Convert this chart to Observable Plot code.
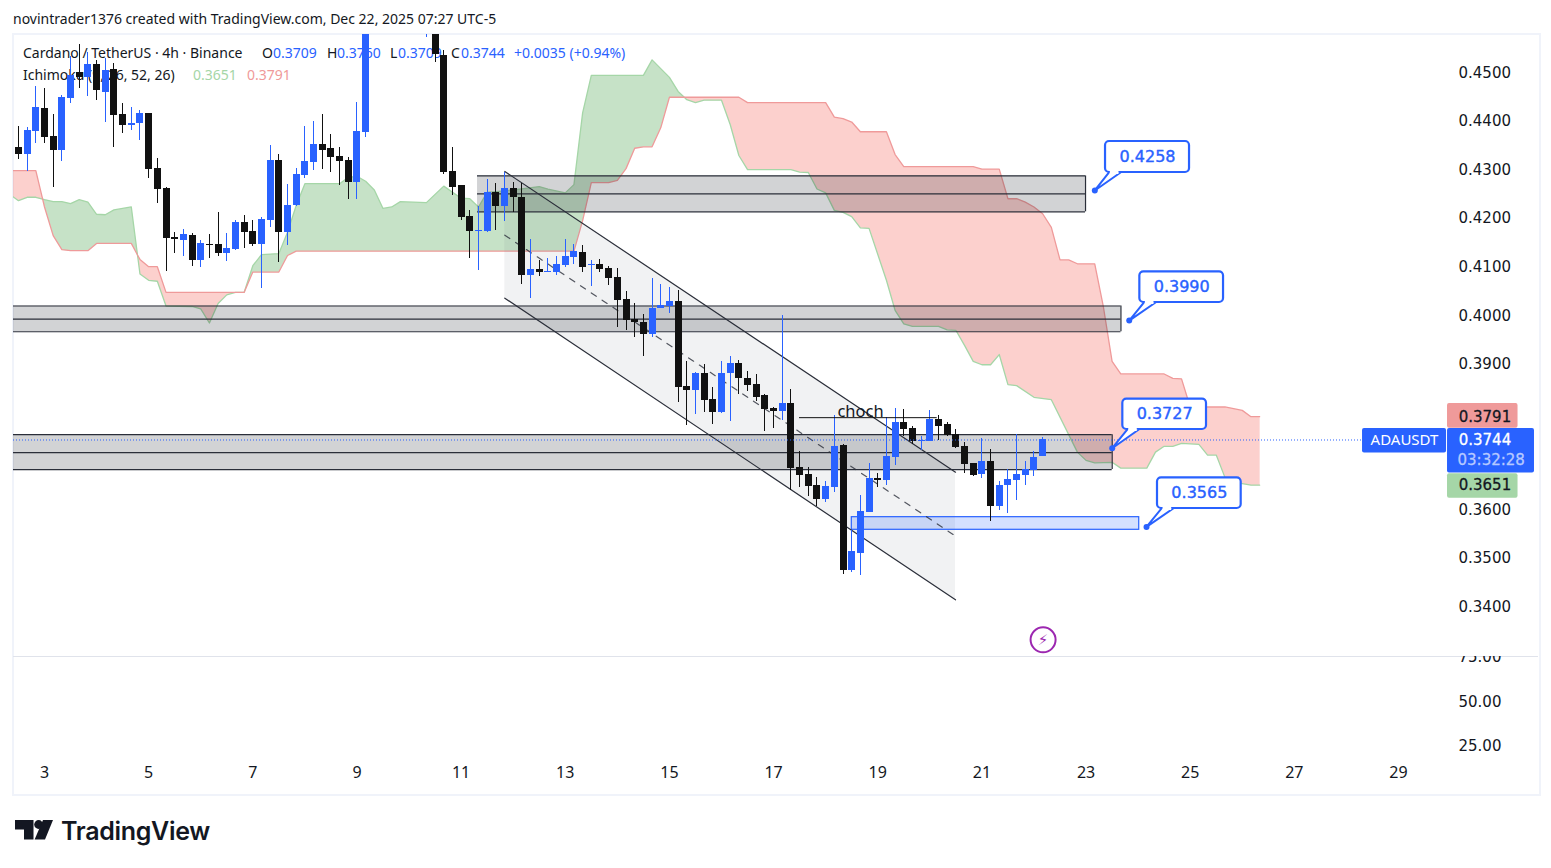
<!DOCTYPE html>
<html>
<head>
<meta charset="utf-8">
<script src="https://cdn.jsdelivr.net/npm/d3@7"></script>
<script src="https://cdn.jsdelivr.net/npm/@observablehq/plot@0.6"></script>
<style>
  html, body { margin: 0; background: #fff; }
  #page { position: relative; width: 1551px; height: 868px; overflow: hidden;
          font-family: "Noto Sans", sans-serif; font-size: 14px; color: #131722; }
  #page span, #page div.txt { position: absolute; white-space: nowrap; line-height: 18px; }
  #pane { position: absolute; left: 12px; top: 33px; width: 1525px; height: 759px; border: 2px solid #f0f3fa; }
  #sep { position: absolute; left: 13px; top: 656px; width: 1525px; border-top: 1px solid #e0e3eb; }
  #page svg { position: absolute; }
  .blue { color: #2962ff; }
</style>
</head>
<body>
<div id="page">
  <span style="left:13px;top:10px">novintrader1376 created with TradingView.com, Dec 22, 2025 07:27 UTC-5</span>
  <div id="pane"></div>
  <span style="left:23px;top:44px">Cardano / TetherUS · 4h · Binance</span>
  <span style="left:262px;top:44px">O</span><span class="blue" style="left:273px;top:44px">0.3709</span>
  <span style="left:327px;top:44px">H</span><span class="blue" style="left:337px;top:44px">0.3760</span>
  <span style="left:390px;top:44px">L</span><span class="blue" style="left:398px;top:44px">0.3709</span>
  <span style="left:451px;top:44px">C</span><span class="blue" style="left:461px;top:44px">0.3744</span>
  <span class="blue" style="left:514px;top:44px">+0.0035 (+0.94%)</span>
  <span style="left:23px;top:66px">Ichimoku (9, 26, 52, 26)</span>
  <span style="left:193px;top:66px;color:#a5d6a7">0.3651</span>
  <span style="left:247px;top:66px;color:#ef9a9a">0.3791</span>
  <div id="sep"></div>
  <svg width="40" height="21" style="left:14px;top:820px" viewBox="14 820 40 21">
    <path fill="#131722" d="M15 820h18.5v19.5H24v-10h-9z"/>
    <circle fill="#131722" cx="38.6" cy="824.5" r="4.4"/>
    <path fill="#131722" d="M43 820h10l-8 19.5H34.6z"/>
  </svg>
  <span style="left:61px;top:817px;font-family:Inter;font-weight:600;font-size:25px;line-height:28px;letter-spacing:-.3px">TradingView</span>
</div>
<script>
// 4h candles, first one sits at day 2.5 of the month. null = above the visible pane
const opens = [
  .4347,.4333,.4380,.4427,.4369,.4341,.4448,.4500,.4491,.4518,
  .4460,.4507,.4414,.4392,.4395,.4416,.4303,.4262,.4161,.4154,
  .4165,.4114,.4147,.4147,.4129,.4136,.4192,.4173,.4147,.4196,
  .4320,.4172,.4227,.4289,.4316,.4353,.4344,.4328,.4320,.4274,
  .4377,null,null,null,null,null,null,.4640,.4700,.4536,
  .4297,.4268,.4204,.4174,.4174,.4254,.4224,.4262,.4244,.4082,
  .4095,.4090,.4090,.4104,.4120,.4130,.4104,.4106,.4097,.4079,
  .4033,.3993,.3986,.3962,.4014,.4020,.4029,.3854,.3845,.3881,
  .3828,.3801,.3880,.3902,.3871,.3858,.3836,.3809,.3803,.3819,
  .3687,.3673,.3650,.3622,.3646,.3733,.3475,.3510,.3595,.3665,
  .3661,.3708,.3780,.3768,.3741,.3741,.3786,.3776,.3755,.3731,
  .3696,.3673,.3700,.3607,.3650,.3661,.3671,.3681,.3709
]
const highs = [
  .4390,.4387,.4472,.4469,.4414,.4453,.4533,.4559,.4543,.4526,
  .4529,.4520,.4437,.4428,.4423,.4416,.4324,.4264,.4171,.4178,
  .4170,.4154,.4167,.4213,.4170,.4196,.4206,.4196,.4203,.4351,
  .4332,.4270,.4303,.4390,.4400,.4414,.4373,.4347,.4326,.4439,
  .4720,null,null,null,null,null,null,.4720,.4720,.4546,
  .4347,.4268,.4217,.4224,.4281,.4273,.4296,.4274,.4273,.4157,
  .4114,.4118,.4122,.4157,.4147,.4145,.4114,.4116,.4101,.4097,
  .4050,.4025,.4003,.4077,.4064,.4058,.4052,.3906,.3883,.3900,
  .3852,.3906,.3916,.3908,.3885,.3879,.3838,.3811,.4001,.3848,
  .3720,.3687,.3667,.3659,.3795,.3735,.3558,.3630,.3696,.3675,
  .3790,.3809,.3807,.3772,.3751,.3805,.3795,.3780,.3766,.3739,
  .3696,.3747,.3725,.3659,.3683,.3755,.3700,.3720,.3750
]
const lows = [
  .4322,.4298,.4355,.4355,.4265,.4318,.4438,.4469,.4452,.4443,
  .4397,.4347,.4376,.4382,.4360,.4282,.4232,.4092,.4129,.4121,
  .4102,.4100,.4117,.4121,.4112,.4135,.4139,.4143,.4057,.4182,
  .4110,.4145,.4225,.4283,.4299,.4301,.4295,.4268,.4239,.4239,
  .4367,null,null,null,null,null,null,.4573,.4522,.4291,
  .4248,.4196,.4117,.4093,.4172,.4176,.4194,.4213,.4064,.4036,
  .4080,.4090,.4082,.4100,.4106,.4090,.4061,.4088,.4063,.3976,
  .3970,.3956,.3915,.3956,.4014,.4005,.3822,.3773,.3797,.3801,
  .3775,.3799,.3783,.3838,.3844,.3824,.3762,.3768,.3784,.3639,
  .3646,.3628,.3607,.3615,.3636,.3467,.3471,.3465,.3595,.3646,
  .3650,.3692,.3751,.3735,.3722,.3741,.3743,.3751,.3727,.3675,
  .3669,.3665,.3576,.3599,.3593,.3619,.3650,.3669,.3709
]
const closes = [
  .4333,.4382,.4429,.4368,.4341,.4449,.4495,.4491,.4518,.4463,
  .4505,.4413,.4392,.4395,.4416,.4302,.4261,.4160,.4156,.4168,
  .4114,.4149,.4145,.4129,.4138,.4192,.4172,.4147,.4198,.4320,
  .4172,.4227,.4291,.4318,.4353,.4340,.4326,.4318,.4274,.4379,
  .4680,null,null,null,null,null,null,.4700,.4538,.4295,
  .4265,.4203,.4174,.4176,.4254,.4224,.4262,.4244,.4082,.4095,
  .4090,.4092,.4106,.4122,.4132,.4099,.4106,.4096,.4077,.4032,
  .3991,.3985,.3962,.4015,.4021,.4029,.3853,.3845,.3881,.3826,
  .3801,.3881,.3902,.3871,.3856,.3832,.3807,.3803,.3819,.3685,
  .3671,.3648,.3622,.3648,.3731,.3475,.3514,.3597,.3665,.3661,
  .3710,.3780,.3766,.3741,.3743,.3786,.3772,.3753,.3729,.3694,
  .3671,.3700,.3607,.3650,.3663,.3673,.3683,.3708,.3744
]

// Ichimoku lines as [bar, price] at the visible corners (crossings are in both lists)
const spanA = [
  [-1,.4250],[0,.4237],[1,.4244],[2,.4244],[2.786,.4240],[3,.4239],[4,.4235],[5,.4235],[6,.4231],[7,.4239],[8,.4234],[9,.4209],[10,.4208],
  [11,.4218],[12,.4221],[13,.4224],[13.714,.4125],[14,.4086],[15,.4073],[16,.4071],[17,.4020],[20,.4019],[21,.4014],[22,.3985],[23,.4025],
  [24,.4043],[25,.4048],[26,.4048],[27,.4103],[28,.4126],[30,.4128],[31,.4172],[32,.4227],[33,.4272],[37,.4272],[38,.4285],[39,.4287],
  [40,.4277],[41,.4259],[42,.4221],[43,.4224],[44,.4235],[47,.4233],[49,.4267],[51,.4242],[52,.4241],[53,.4224],[54,.4254],[57,.4259],
  [60,.4266],[61,.4261],[63,.4253],[64,.4270],[65,.4418],[66,.4495],[72,.4495],[73,.4527],[75,.4491],[76,.4462],[76.71,.4450],[77,.4445],
  [78,.4439],[79,.4444],[81,.4444],[82,.4394],[83,.4330],[84,.4301],[89,.4301],[90,.4296],[91,.4295],[92,.4261],[93,.4253],[94,.4217],
  [95,.4213],[96,.4204],[97,.4181],[98,.4180],[100,.4073],[101,.4011],[102,.3983],[103,.3978],[106,.3978],[107,.3971],[108,.3970],[109,.3939],
  [110,.3906],[111,.3899],[112,.3899],[113,.3920],[114,.3858],[115,.3856],[117,.3832],[119,.3827],[121,.3755],[122,.3719],[123,.3702],
  [124,.3697],[126,.3698],[127,.3686],[130,.3686],[131,.3719],[132,.3731],[133,.3731],[134,.3737],[136,.3735],[137,.3713],[138,.3713],
  [139,.3667],[140,.3657],[142,.3651],[143,.3651]
]
const spanB = [
  [-1,.4299],[2,.4299],[2.786,.4240],[3,.4224],[4,.4165],[5,.4136],[6,.4134],[8,.4134],[9,.4149],[13,.4149],[13.714,.4125],[14,.4116],[15,.4101],
  [16,.4101],[17,.4048],[26,.4048],[27,.4090],[30,.4090],[31,.4124],[32,.4133],[64,.4133],[65,.4196],[66,.4274],[68,.4274],[69,.4279],
  [70,.4303],[71,.4345],[72,.4348],[73,.4348],[74,.4387],[75,.4450],[76.71,.4450],[83,.4450],[84,.4439],[93,.4439],[94,.4409],[95,.4406],
  [96,.4399],[97,.4379],[100,.4379],[101,.4332],[102,.4307],[110,.4307],[111,.4302],[113,.4302],[114,.4241],[115,.4241],[116,.4234],
  [117,.4224],[118,.4210],[119,.4182],[120,.4115],[121,.4115],[122,.4107],[124,.4107],[125,.4018],[126,.3906],[127,.3880],[132,.3880],
  [133,.3871],[134,.3870],[135,.3812],[139,.3812],[141,.3805],[142,.3792],[143,.3792]
]
const cloudBreaks = [-1, 2.786, 13.714, 26, 76.71, 143]
const cloudColors = ["#f44336", "#43a047", "#f44336", "#43a047", "#f44336"]

// drawings, in day / price
const channelDays = [11.839, 20.493]
const channelUpper = [.42971, .36777]
const channelMid = [.41659, .35461]
const channelLower = [.40361, .34148]

const zoneStart = [11.315, 2.405, 2.405]
const zoneEnd = [22.990, 23.670, 23.502]
const zoneTop = [.4288, .4020, .3755]
const zoneMid = [.4251, .3993, .3718]
const zoneBottom = [.4214, .3967, .3683]

const levelLabels = ["0.4258", "0.3990", "0.3727", "0.3565"]
const levelPrices = [.4258, .3990, .3727, .3565]
const boxLeft = [23.374, 24.033, 23.706, 24.372]
const boxRight = [24.987, 25.640, 25.313, 25.979]
const boxTop = [.43589, .40905, .38281, .36661]
const boxBottom = [.42950, .40272, .37656, .36029]
const tipDay = [23.168, 23.829, 23.502, 24.161]
const baseLeft = [23.437, 24.109, 23.790, 24.449]
const baseRight = [23.662, 24.334, 24.013, 24.674]

const priceTicks = [.45, .44, .43, .42, .41, .40, .39, .36, .35, .34]
const rsiTicks = [75, 50, 25]
const dayTicks = [3, 5, 7, 9, 11, 13, 15, 17, 19, 21, 23, 25, 27, 29]

const blue = "#2962ff"
const ink = "#131722"
const dark = "#2a2e39"
const barDay = i => 2.5 + i / 6
const xDomain = [2.4047, 29.979]
const axisFont = "'DejaVu Sans'"

const candles = opens.map((o, i) => ({day: barDay(i), open: o, high: highs[i], low: lows[i], close: closes[i]})).filter(d => d.open !== null)
const up = candles.filter(d => d.close >= d.open)
const down = candles.filter(d => d.close < d.open)

const toPts = a => a.map(([bar, price]) => ({day: barDay(bar), price}))
const ptsA = toPts(spanA)
const ptsB = toPts(spanB)

// one closed polygon for every stretch between two crossings of the lines
const cloudMarks = cloudColors.map((c, k) => {
  const lo = barDay(cloudBreaks[k]), hi = barDay(cloudBreaks[k + 1])
  const poly = ptsA.filter(d => d.day >= lo && d.day <= hi).concat(ptsB.filter(d => d.day >= lo && d.day <= hi).reverse())
  return Plot.line(poly, {x: "day", y: "price", fill: c, fillOpacity: c == "#43a047" ? 0.3 : 0.25, stroke: "none", clip: true})
})

const channelRows = channelDays.map((d, i) => ({day: d, upper: channelUpper[i], mid: channelMid[i], lower: channelLower[i]}))
const zones = zoneStart.map((s, i) => ({start: s, end: zoneEnd[i], top: zoneTop[i], mid: zoneMid[i], bottom: zoneBottom[i]}))
const levels = levelLabels.map((l, i) => ({label: l, price: levelPrices[i], left: boxLeft[i], right: boxRight[i], top: boxTop[i], bottom: boxBottom[i],
  tip: tipDay[i], baseL: baseLeft[i], baseR: baseRight[i]}))

const priceChart = Plot.plot({
  width: 1551, height: 622,
  marginLeft: 13, marginRight: 102, marginTop: 0, marginBottom: 0,
  style: {background: "transparent", position: "absolute", left: "0px", top: "34px", overflow: "hidden"},
  x: {domain: xDomain, axis: null},
  y: {domain: [.3298, .45793], axis: null},
  marks: [
    Plot.axisY({anchor: "right", ticks: priceTicks, tickSize: 0, tickPadding: 9, tickFormat: ".4f", label: null, fill: ink, fontSize: 15, fontFamily: axisFont, stroke: ink, strokeWidth: 0.3}),
    ...cloudMarks,
    Plot.line(ptsA, {x: "day", y: "price", stroke: "#a5d6a7", strokeWidth: 1.3, clip: true}),
    Plot.line(ptsB, {x: "day", y: "price", stroke: "#ef9a9a", strokeWidth: 1.3, clip: true}),
    Plot.areaY(channelRows, {x: "day", y1: "lower", y2: "upper", fill: "#787b86", fillOpacity: 0.1}),
    Plot.rect(zones, {x1: "start", x2: "end", y1: "bottom", y2: "top", fill: "#20222e", fillOpacity: 0.2}),
    Plot.ruleY(zones, {x1: "start", x2: "end", y: "top", stroke: dark, strokeWidth: 1.2}),
    Plot.ruleY(zones, {x1: "start", x2: "end", y: "mid", stroke: dark, strokeWidth: 1.2}),
    Plot.ruleY(zones, {x1: "start", x2: "end", y: "bottom", stroke: dark, strokeWidth: 1.2}),
    Plot.ruleX(zones, {x: "end", y1: "bottom", y2: "top", stroke: dark, strokeWidth: 1.2}),
    Plot.rect([{x1: 18.502, x2: 24.021, y1: .3559, y2: .3585}], {x1: "x1", x2: "x2", y1: "y1", y2: "y2", fill: blue, fillOpacity: 0.2, stroke: blue, strokeWidth: 1.2}),
    Plot.line(channelRows, {x: "day", y: "upper", stroke: dark, strokeWidth: 1.2}),
    Plot.line(channelRows, {x: "day", y: "lower", stroke: dark, strokeWidth: 1.2}),
    Plot.line(channelRows, {x: "day", y: "mid", stroke: dark, strokeWidth: 1.2, strokeDasharray: "6,7", strokeOpacity: 0.8}),
    // wicks then bodies, candles stay on top of the drawings
    Plot.ruleX(up, {x: "day", y1: "low", y2: "high", stroke: blue, strokeWidth: 1, clip: true, shapeRendering: "crispEdges"}),
    Plot.ruleX(down, {x: "day", y1: "low", y2: "high", stroke: "#111", strokeWidth: 1, clip: true, shapeRendering: "crispEdges"}),
    Plot.ruleX(up, {x: "day", y1: "open", y2: "close", stroke: blue, strokeWidth: 7, clip: true, shapeRendering: "crispEdges"}),
    Plot.ruleX(down, {x: "day", y1: "open", y2: "close", stroke: "#111", strokeWidth: 7, clip: true, shapeRendering: "crispEdges"}),
    // current price line
    Plot.ruleY([.3744], {x1: xDomain[0], x2: 28.309, stroke: blue, strokeWidth: 1, strokeDasharray: "1,2"}),
    // choch
    Plot.ruleY([.3790], {x1: 17.498, x2: 20.142, stroke: "#111", strokeWidth: 1}),
    Plot.text(["choch"], {x: 18.669, y: .3803, fill: "#131722", fontSize: 16.5, fontFamily: "'Noto Sans'"}),
    // level callouts
    Plot.rect(levels, {x1: "left", x2: "right", y1: "bottom", y2: "top", fill: "#fff", stroke: blue, strokeWidth: 2.2, rx: 4}),
    ...levels.map(d => Plot.line([{x: d.baseL, y: d.bottom}, {x: d.tip, y: d.price}, {x: d.baseR, y: d.bottom}],
      {x: "x", y: "y", fill: "#fff", stroke: blue, strokeWidth: 2})),
    Plot.ruleY(levels, {x1: d => d.baseL + 0.03, x2: d => d.baseR - 0.03, y: "bottom", stroke: "#fff", strokeWidth: 3}),
    Plot.dot(levels, {x: "tip", y: "price", r: 3, fill: blue}),
    Plot.text(levels, {x: d => (d.left + d.right) / 2, y: d => (d.top + d.bottom) / 2, text: "label", fill: blue, fontSize: 16, fontFamily: axisFont, stroke: blue, strokeWidth: 0.4}),
    // bolt marker
    Plot.dot([{x: 22.175, y: .33324}], {x: "x", y: "y", r: 12.5, fill: "#fff", stroke: "#9c27b0", strokeWidth: 2}),
    Plot.text(["⚡"], {x: 22.175, y: .33324, fill: "#9c27b0", fontSize: 15, fontFamily: axisFont}),
    // tags on the price scale
    Plot.rect([{x1: 29.941, x2: 31.295, y1: .3768, y2: .3819}], {x1: "x1", x2: "x2", y1: "y1", y2: "y2", fill: "#ef9a9a", rx: 2}),
    Plot.rect([{x1: 29.941, x2: 31.295, y1: .3624, y2: .36745}], {x1: "x1", x2: "x2", y1: "y1", y2: "y2", fill: "#a5d6a7", rx: 2}),
    Plot.rect([{x1: 29.941, x2: 31.611, y1: .3676, y2: .37677}], {x1: "x1", x2: "x2", y1: "y1", y2: "y2", fill: blue, rx: 2}),
    Plot.rect([{x1: 28.309, x2: 29.922, y1: .3717, y2: .37677}], {x1: "x1", x2: "x2", y1: "y1", y2: "y2", fill: blue, rx: 2}),
    Plot.text(["0.3791"], {x: 30.66, y: .3792, fill: ink, fontSize: 15, fontFamily: axisFont, stroke: ink, strokeWidth: 0.3}),
    Plot.text(["0.3744"], {x: 30.66, y: .3743, fill: "#fff", fontSize: 15, fontFamily: axisFont, stroke: "#fff", strokeWidth: 0.3}),
    Plot.text(["03:32:28"], {x: 30.78, y: .3702, fill: "#b7c9ff", fontSize: 15, fontFamily: axisFont, stroke: "#b7c9ff", strokeWidth: 0.3}),
    Plot.text(["0.3651"], {x: 30.66, y: .3650, fill: ink, fontSize: 15, fontFamily: axisFont, stroke: ink, strokeWidth: 0.3}),
    Plot.text(["ADAUSDT"], {x: 29.115, y: .3743, fill: "#fff", fontSize: 15, fontFamily: "'Noto Sans'"})
  ]
})

// lower pane only carries its scale labels and the day axis
const lowerChart = Plot.plot({
  width: 1551, height: 137,
  marginLeft: 13, marginRight: 102, marginTop: 0, marginBottom: 30,
  style: {background: "transparent", position: "absolute", left: "0px", top: "656px", overflow: "hidden"},
  x: {domain: xDomain, axis: null},
  y: {domain: [15.45, 75.56], axis: null},
  marks: [
    Plot.axisY({anchor: "right", ticks: rsiTicks, tickSize: 0, tickPadding: 9, tickFormat: ".2f", label: null, fill: ink, fontSize: 15, fontFamily: axisFont, stroke: ink, strokeWidth: 0.3}),
    Plot.axisX({anchor: "bottom", ticks: dayTicks, tickSize: 0, tickPadding: 3, tickFormat: d => String(d), label: null, fill: ink, fontSize: 16, fontFamily: "'Noto Sans'"})
  ]
})

const page = document.getElementById("page")
page.appendChild(priceChart)
page.appendChild(lowerChart)
</script>
</body>
</html>
